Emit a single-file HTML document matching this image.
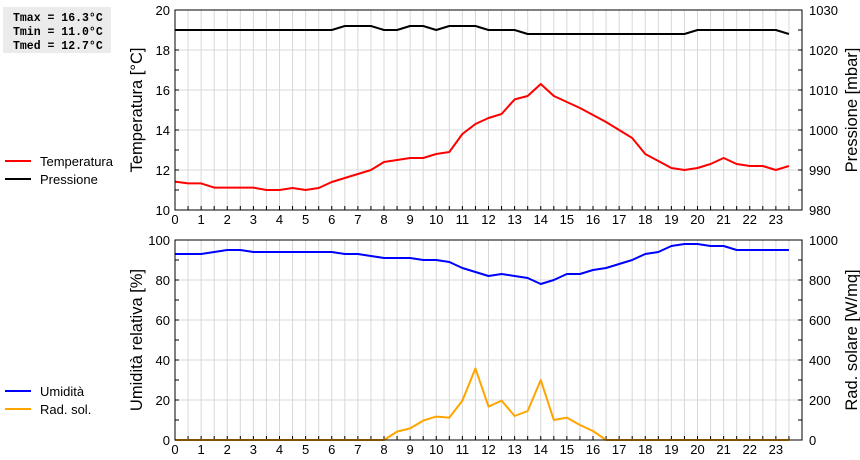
<!DOCTYPE html>
<html><head><meta charset="utf-8"><style>
body{margin:0;background:#fff;width:860px;height:460px;overflow:hidden;font-family:"Liberation Sans",sans-serif}
svg{display:block}
</style></head><body>
<svg id="c" width="860" height="460" xmlns="http://www.w3.org/2000/svg">
<rect x="3" y="7" width="108" height="46" fill="#ebebeb"/>
<text x="13" y="21" font-family="Liberation Mono,monospace" font-weight="bold" font-size="11.5">Tmax = 16.3°C</text>
<text x="13" y="35" font-family="Liberation Mono,monospace" font-weight="bold" font-size="11.5">Tmin = 11.0°C</text>
<text x="13" y="49" font-family="Liberation Mono,monospace" font-weight="bold" font-size="11.5">Tmed = 12.7°C</text>
<g>
<line x1="5" y1="161" x2="31" y2="161" stroke="#f00" stroke-width="2"/><text x="40" y="166" font-size="13">Temperatura</text>
<line x1="5" y1="179" x2="31" y2="179" stroke="#000" stroke-width="2"/><text x="40" y="184" font-size="13">Pressione</text>
</g>
<g>
<line x1="5" y1="391" x2="31" y2="391" stroke="#00f" stroke-width="2"/><text x="40" y="396" font-size="13">Umidità</text>
<line x1="5" y1="409" x2="31" y2="409" stroke="orange" stroke-width="2"/><text x="40" y="414" font-size="13">Rad. sol.</text>
</g>
</svg>
<script>
const hours=[];for(let i=0;i<48;i++)hours.push(i/2);
const temperature=[11.42,11.33,11.33,11.12,11.12,11.12,11.12,11.0,11.0,11.1,11.0,11.1,11.4,11.6,11.8,12.0,12.4,12.5,12.6,12.6,12.8,12.9,13.8,14.3,14.6,14.8,15.53,15.7,16.3,15.7,15.4,15.1,14.75,14.4,14.0,13.6,12.8,12.45,12.1,12.0,12.1,12.3,12.6,12.3,12.2,12.2,12.0,12.2];
const pressure=[1025,1025,1025,1025,1025,1025,1025,1025,1025,1025,1025,1025,1025,1026,1026,1026,1025,1025,1026,1026,1025,1026,1026,1026,1025,1025,1025,1024,1024,1024,1024,1024,1024,1024,1024,1024,1024,1024,1024,1024,1025,1025,1025,1025,1025,1025,1025,1024];
const humidity=[93,93,93,94,95,95,94,94,94,94,94,94,94,93,93,92,91,91,91,90,90,89,86,84,82,83,82,81,78,80,83,83,85,86,88,90,93,94,97,98,98,97,97,95,95,95,95,95];
const radiation=[0,0,0,0,0,0,0,0,0,0,0,0,0,0,0,0,0,42,58,97,117,112,197,358,167,197,120,145,300,100,112,75,45,0,0,0,0,0,0,0,0,0,0,0,0,0,0,0];
const xTicks=[0,1,2,3,4,5,6,7,8,9,10,11,12,13,14,15,16,17,18,19,20,21,22,23];
const tempTicks=[10,12,14,16,18,20];
const presTicks=[980,990,1000,1010,1020,1030];
const humTicks=[0,20,40,60,80,100];
const radTicks=[0,200,400,600,800,1000];
const NS="http://www.w3.org/2000/svg",svg=document.getElementById('c');
const X0=175,X1=802;
const x=h=>X0+(X1-X0)*h/24;
function mk(t,a,p){const e=document.createElementNS(NS,t);for(const k in a)e.setAttribute(k,a[k]);(p||svg).appendChild(e);return e;}
function panel(top,bot,lMin,lMax,rMin,rMax,lT,rT,lTitle,rTitle,series,name){
  const g=mk('g',{});
  
  
  const yl=v=>bot-(bot-top)*(v-lMin)/(lMax-lMin), yr=v=>bot-(bot-top)*(v-rMin)/(rMax-rMin);
  for(let h=0.5;h<24;h+=0.5)mk('line',{x1:x(h),x2:x(h),y1:top,y2:bot,stroke:'#d8d8d8'},g);
  const step=(lT[1]-lT[0])/2;
  lT.forEach(v=>{if(v>lMin&&v<lMax)mk('line',{x1:X0,x2:X1,y1:yl(v),y2:yl(v),stroke:'#d8d8d8'},g);});
  for(let h=0.5;h<24;h+=0.5)mk('line',{x1:x(h),x2:x(h),y1:bot,y2:bot-4,stroke:'#000'},g);
  for(let v=lMin+step;v<lMax;v+=step){mk('line',{x1:X0,x2:X0+4,y1:yl(v),y2:yl(v),stroke:'#000'},g);mk('line',{x1:X1,x2:X1-4,y1:yl(v),y2:yl(v),stroke:'#000'},g);}
  series.forEach(s=>{
    const sc=s.axis==='l'?yl:yr;
    const p=mk('polyline',{points:s.data.map((v,i)=>x(hours[i])+','+sc(v)).join(' '),fill:'none',stroke:s.color,'stroke-width':2,'stroke-linejoin':'round'},g);
    
    
  });
  mk('rect',{x:X0,y:top,width:X1-X0,height:bot-top,fill:'none',stroke:'#000'},g);
  xTicks.forEach(h=>{const t=mk('text',{x:x(h),y:bot+14,'text-anchor':'middle','font-size':13},g);t.textContent=h;
    
    });
  lT.forEach(v=>{const t=mk('text',{x:X0-5,y:yl(v)+5,'text-anchor':'end','font-size':13},g);t.textContent=v;
    
    });
  rT.forEach(v=>{const t=mk('text',{x:X1+7,y:yr(v)+5,'font-size':13},g);t.textContent=v;
    
    });
  const cy=(top+bot)/2;
  const lt=mk('text',{x:0,y:0,transform:`translate(142,${cy}) rotate(-90)`,'text-anchor':'middle','font-size':16.5},g);lt.textContent=lTitle;
  
  
  const rt=mk('text',{x:0,y:0,transform:`translate(857,${cy}) rotate(-90)`,'text-anchor':'middle','font-size':16.5},g);rt.textContent=rTitle;
  
  
}
panel(10,210,10,20,980,1030,tempTicks,presTicks,'Temperatura [°C]','Pressione [mbar]',
 [{data:pressure,axis:'r',color:'#000',name:'pressure-line'},{data:temperature,axis:'l',color:'#f00',name:'temperature-line'}],'top-panel');
panel(240,440,0,100,0,1000,humTicks,radTicks,'Umidità relativa [%]','Rad. solare [W/mq]',
 [{data:humidity,axis:'l',color:'#00f',name:'humidity-line'},{data:radiation,axis:'r',color:'orange',name:'radiation-line'}],'bottom-panel');
</script>
</body></html>
